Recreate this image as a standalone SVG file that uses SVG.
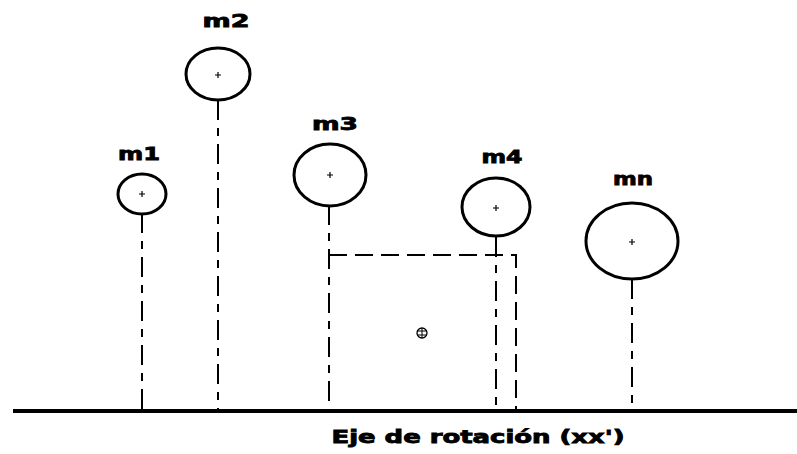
<svg xmlns="http://www.w3.org/2000/svg" width="797" height="454" viewBox="0 0 797 454">
<style>
.m{fill:none;stroke:#000;stroke-width:3}
.c{stroke:#000;stroke-width:1.2}
.lbl{font-family:"DejaVu Sans","Liberation Sans",sans-serif;font-weight:bold;font-size:17px;fill:#000;stroke:#000;stroke-width:0.8;text-anchor:middle}
.stem{stroke:#000;stroke-width:2;stroke-dasharray:20 8 8 8;fill:none}
.rect{stroke:#000;stroke-width:2;stroke-dasharray:18 8;fill:none}
</style>
<rect width="797" height="454" fill="#fff"/>
<g id="connectors">
<line class="stem" x1="142" y1="213" x2="142" y2="409"/>
<line class="stem" x1="218" y1="100" x2="218" y2="409"/>
<line class="stem" x1="329" y1="205" x2="329" y2="409"/>
<line class="stem" x1="496" y1="237" x2="496" y2="409"/>
<line class="stem" x1="632" y1="279" x2="632" y2="409"/>
<polyline class="rect" points="329,255 516,255 516,409"/>
</g>
<g id="m1">
<ellipse class="m" cx="142" cy="194" rx="24" ry="20"/>
<path class="c" d="M139 194h6M142 191v6"/>
<text class="lbl" x="139" y="160" textLength="42" lengthAdjust="spacingAndGlyphs">m1</text>
</g>
<g id="m2">
<ellipse class="m" cx="218" cy="74" rx="32" ry="26"/>
<path class="c" d="M215 75h6M218 72v6"/>
<text class="lbl" x="226" y="27" textLength="47" lengthAdjust="spacingAndGlyphs">m2</text>
</g>
<g id="m3">
<ellipse class="m" cx="330" cy="175" rx="36" ry="31"/>
<path class="c" d="M327 175h6M330 172v6"/>
<text class="lbl" x="335" y="130" textLength="46" lengthAdjust="spacingAndGlyphs">m3</text>
</g>
<g id="m4">
<ellipse class="m" cx="496" cy="207" rx="34" ry="29"/>
<path class="c" d="M493 208h6M496 205v6"/>
<text class="lbl" x="502" y="163" textLength="41" lengthAdjust="spacingAndGlyphs">m4</text>
</g>
<g id="mn">
<ellipse class="m" cx="632" cy="241" rx="46" ry="38"/>
<path class="c" d="M629 242h6M632 239v6"/>
<text class="lbl" x="633" y="185" textLength="40" lengthAdjust="spacingAndGlyphs">mn</text>
</g>
<g id="cm">
<circle cx="422" cy="333" r="5" fill="none" stroke="#000" stroke-width="1.3"/>
<path d="M422 328v10M417 331h10M417 335h10" stroke="#000" stroke-width="1"/>
</g>
<g id="axis">
<line x1="13" y1="411" x2="797" y2="411" stroke="#000" stroke-width="4"/>
<text class="lbl" x="478" y="443" textLength="293" lengthAdjust="spacingAndGlyphs">Eje de rotación (xx')</text>
</g>
</svg>
